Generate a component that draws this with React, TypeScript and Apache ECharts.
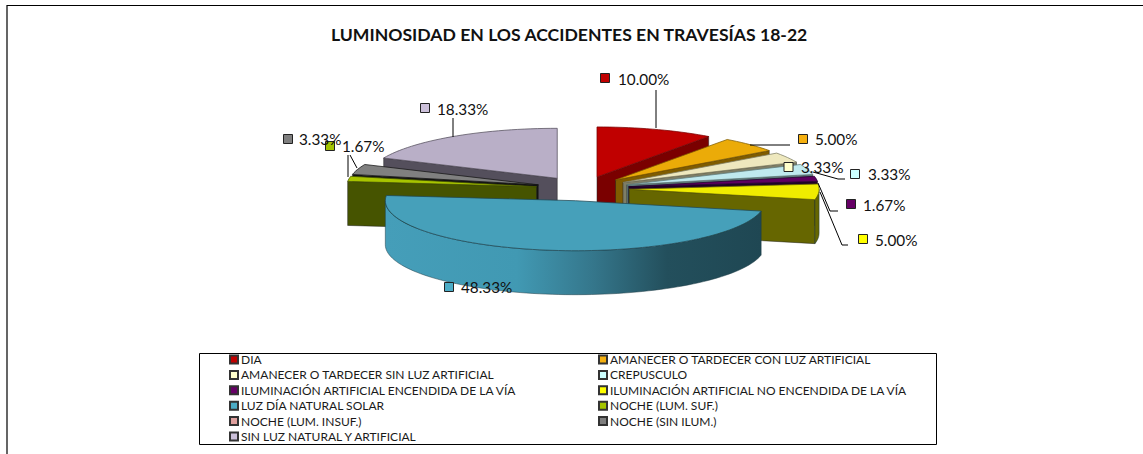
import React, { useEffect, useRef } from "react";
import * as echarts from "echarts";

const TITLE = "LUMINOSIDAD EN LOS ACCIDENTES EN TRAVESÍAS 18-22";
const categories = [
  "DIA",
  "AMANECER O TARDECER CON LUZ ARTIFICIAL",
  "AMANECER O TARDECER SIN LUZ ARTIFICIAL",
  "CREPUSCULO",
  "ILUMINACIÓN ARTIFICIAL ENCENDIDA DE LA VÍA",
  "ILUMINACIÓN ARTIFICIAL NO ENCENDIDA DE LA VÍA",
  "LUZ DÍA NATURAL SOLAR",
  "NOCHE (LUM. SUF.)",
  "NOCHE (LUM. INSUF.)",
  "NOCHE (SIN ILUM.)",
  "SIN LUZ NATURAL Y ARTIFICIAL",
];
const percents = [10.0, 5.0, 3.33, 3.33, 1.67, 5.0, 48.33, 1.67, 0, 3.33, 18.33];

const legendColors = ["#C00000", "#F5B010", "#FFFFCC", "#CCFFFF", "#660066", "#FFFF00", "#4BACC6", "#A4C400", "#E0A09E", "#7F7F7F", "#CCC0DA"];
const topColors = ["#C00000", "#EBAB08", "#EEE8BE", "#BFE9EE", "#5E0060", "#F0EC00", "#46A0BA", "#A8C400", "#E0A09E", "#808080", "#B9AFC7"];
const faceColors = ["#7A0000", "#7F5C00", "#7E7E66", "#5F7C7C", "#20002A", "#666600", "#1F4753", "#465400", "#804040", "#141414", "#544F5C"];
const paintOrder = [0, 1, 2, 3, 4, 5, 10, 9, 8, 7, 6];

// pie geometry in pixels
const CX = 582.6;
const CY = 188.6;
const RX = 190;
const RY = 50;
const DEPTH = 44;
const EXPLODE = 0.245;

const FONT = "Lato";

// label layout: swatch centre, text start, leader polyline
const labelLayout = [
  { sx: 605, sy: 78, tx: 618, ty: 79, line: [[656, 128], [656, 90]] },
  { sx: 803, sy: 139, tx: 815, ty: 139, line: [[750, 145], [790, 145]] },
  { sx: 788.5, sy: 167, tx: 801, ty: 167, line: [] },
  { sx: 855, sy: 174, tx: 868, ty: 174, line: [[813, 172], [838, 179], [845, 179]] },
  { sx: 851, sy: 204, tx: 863, ty: 205, line: [[818, 183], [830, 211], [838, 211]] },
  { sx: 863, sy: 239, tx: 875, ty: 240, line: [[820, 192], [842, 245], [848, 245]] },
  { sx: 449, sy: 287, tx: 461, ty: 287, line: [] },
  { sx: 330, sy: 146, tx: 342, ty: 146, line: [[348, 155], [348, 177]] },
  null,
  { sx: 288, sy: 139, tx: 299, ty: 139, line: [[350, 155], [357, 168]] },
  { sx: 425, sy: 108, tx: 437, ty: 109, line: [[453, 118], [453, 137]] },
];

const total = percents.reduce((a, b) => a + b, 0);
const rad = (d: number) => (d * Math.PI) / 180;

function sliceAngles(i: number) {
  let before = 0;
  for (let k = 0; k < i; k++) before += percents[k];
  return [(before / total) * 360, ((before + percents[i]) / total) * 360];
}

function renderSlice(i: number) {
  return () => {
    const [a0, a1] = sliceAngles(i);
    if (a1 - a0 <= 0) return { type: "group", children: [] };
    const mid = rad((a0 + a1) / 2);
    const ax = CX + EXPLODE * RX * Math.sin(mid);
    const ay = CY - EXPLODE * RY * Math.cos(mid);
    const rim = (deg: number, drop = 0) => [
      ax + RX * Math.sin(rad(deg)),
      ay - RY * Math.cos(rad(deg)) + drop,
    ];
    const arc = (from: number, to: number, drop = 0) => {
      const n = Math.max(2, Math.ceil((to - from) / 2));
      const out: number[][] = [];
      for (let k = 0; k <= n; k++) out.push(rim(from + ((to - from) * k) / n, drop));
      return out;
    };
    const children: any[] = [];
    const face = faceColors[i];
    const radial = (deg: number) => {
      const p = rim(deg);
      children.push({
        type: "polygon",
        shape: { points: [[ax, ay], p, [p[0], p[1] + DEPTH], [ax, ay + DEPTH]] },
        style: { fill: face, stroke: "#222", lineWidth: 0.5 },
      });
    };
    if (a0 > 180 && a0 < 360) radial(a0);
    if (a1 > 0 && a1 < 180) radial(a1);
    const wFrom = Math.max(a0, 90);
    const wTo = Math.min(a1, 270);
    if (wTo > wFrom) {
      const upper = arc(wFrom, wTo);
      const lower = arc(wFrom, wTo, DEPTH).reverse();
      const isWide = wTo - wFrom > 90;
      children.push({
        type: "polygon",
        shape: { points: upper.concat(lower) },
        style: {
          fill: isWide
            ? new echarts.graphic.LinearGradient(0, 0, 1, 0, [
                { offset: 0, color: "#459EB9" },
                { offset: 0.35, color: "#4199B3" },
                { offset: 0.55, color: "#35778C" },
                { offset: 0.75, color: "#234F5C" },
                { offset: 1, color: "#1F4753" },
              ])
            : face,
          stroke: "#1d3a44",
          lineWidth: 0.5,
        },
      });
    }
    children.push({
      type: "polygon",
      shape: { points: [[ax, ay] as number[]].concat(arc(a0, a1)) },
      style: { fill: topColors[i], stroke: face, lineWidth: 0.75 },
    });
    return { type: "group", children };
  };
}

function renderLabels() {
  const children: any[] = [];
  percents.forEach((v, i) => {
    const l = labelLayout[i];
    if (!l) return;
    if (l.line.length) {
      children.push({
        type: "polyline",
        shape: { points: l.line },
        style: { fill: "none", stroke: "#000", lineWidth: 1 },
      });
    }
    children.push({
      type: "rect",
      shape: { x: l.sx - 4.5, y: l.sy - 4.5, width: 9, height: 9 },
      style: { fill: legendColors[i], stroke: "#222", lineWidth: 1 },
    });
    children.push({
      type: "text",
      style: {
        x: l.tx,
        y: l.ty,
        text: v.toFixed(2) + "%",
        fill: "#111",
        font: `15.3px ${FONT}`,
        verticalAlign: "middle",
      },
    });
  });
  return { type: "group", children };
}

const legendBase = {
  orient: "vertical",
  top: 352,
  icon: "rect",
  itemWidth: 8,
  itemHeight: 8,
  itemGap: 0.4,
  selectedMode: false,
  padding: 0,
  textStyle: { fontFamily: FONT, fontSize: 12, color: "#1a1a1a", lineHeight: 15, padding: [0, 0, 0, -2] },
};

export default function App() {
  const ref = useRef<HTMLDivElement>(null);
  useEffect(() => {
    document.body.style.margin = "0";
    const chart = echarts.init(ref.current!, null, { renderer: "svg" });
    const series: any[] = categories.map((name, i) => ({
      type: "custom",
      name,
      coordinateSystem: "none",
      data: [[percents[i]]],
      z: 2 + paintOrder.indexOf(i),
      itemStyle: { color: legendColors[i], borderColor: "#333", borderWidth: 1 },
      renderItem: renderSlice(i),
      silent: true,
    }));
    series.push({
      type: "custom",
      name: "labels",
      coordinateSystem: "none",
      data: [[0]],
      z: 50,
      renderItem: renderLabels,
      silent: true,
    });
    chart.setOption({
      animation: false,
      backgroundColor: "#fff",
      title: {
        text: TITLE,
        left: 331,
        top: 25,
        padding: 0,
        textStyle: { fontFamily: FONT, fontSize: 17.6, fontWeight: "bold", color: "#111" },
      },
      legend: [
        { ...legendBase, left: 229, data: categories.filter((_, i) => i % 2 === 0) },
        { ...legendBase, left: 598, data: categories.filter((_, i) => i % 2 === 1) },
      ],
      graphic: [
        { type: "rect", z: -1, shape: { x: 199.5, y: 353.5, width: 737, height: 91 }, style: { fill: "#fff", stroke: "#000", lineWidth: 1 } },
        { type: "polyline", z: 1, shape: { points: [[7, 454], [7, 5.5], [1143, 5.5]] }, style: { fill: "none", stroke: "#000", lineWidth: 1.2 } },
      ],
      series,
    });
    return () => chart.dispose();
  }, []);
  return <div ref={ref} style={{ position: "absolute", left: 0, top: 0, width: 1143, height: 454 }} />;
}
